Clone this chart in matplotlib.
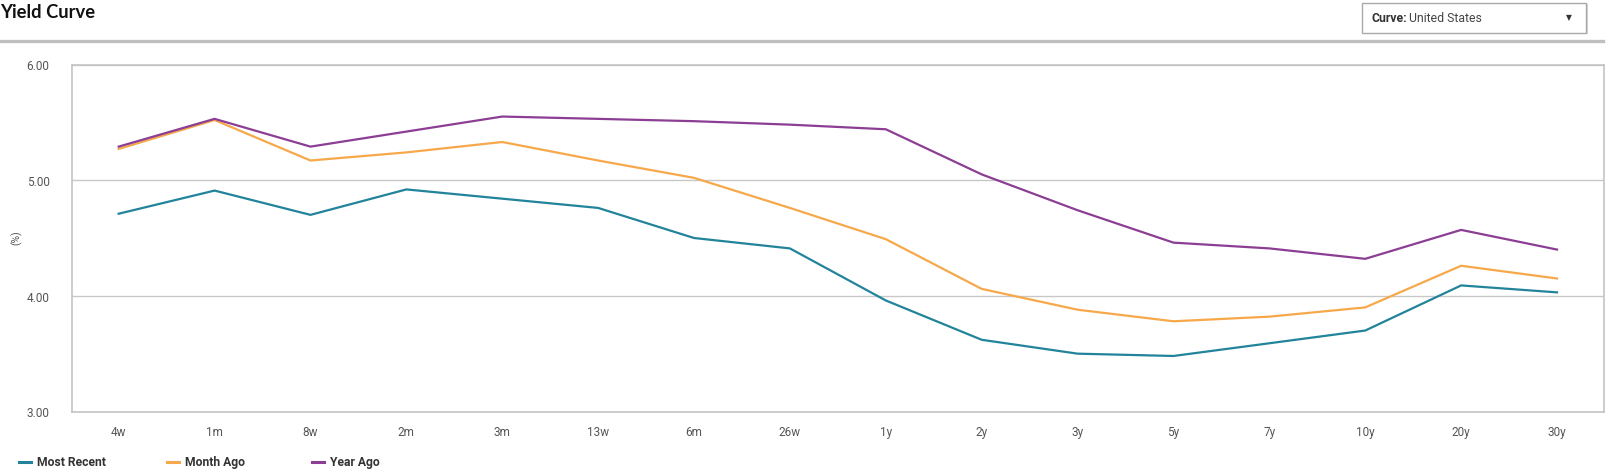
import matplotlib
matplotlib.use('Agg')
import matplotlib.pyplot as plt
from matplotlib.lines import Line2D
from matplotlib.patches import Rectangle

# Data
tenors = ['4w', '1m', '8w', '2m', '3m', '13w', '6m', '26w',
          '1y', '2y', '3y', '5y', '7y', '10y', '20y', '30y']
most_recent = [4.71, 4.91, 4.70, 4.92, 4.84, 4.76, 4.50, 4.41,
               3.96, 3.62, 3.50, 3.48, 3.59, 3.70, 4.09, 4.03]
month_ago = [5.27, 5.52, 5.17, 5.24, 5.33, 5.17, 5.02, 4.76,
             4.49, 4.06, 3.88, 3.78, 3.82, 3.90, 4.26, 4.15]
year_ago = [5.29, 5.53, 5.29, 5.42, 5.55, 5.53, 5.51, 5.48,
            5.44, 5.05, 4.74, 4.46, 4.41, 4.32, 4.57, 4.40]
series_names = ['Most Recent', 'Month Ago', 'Year Ago']
y_ticks = [3.0, 4.0, 5.0, 6.0]

colors = ['#22849b', '#f6a84a', '#8c3e94']

plt.rcParams['font.family'] = 'Roboto'

W, H = 1614, 477
fig = plt.figure(figsize=(W / 100, H / 100), dpi=100)


def fx(px):
    return px / W


def fy(py):
    return 1 - py / H


# plot area
ax = fig.add_axes([fx(71.7), fy(412.5), fx(1604 - 71.7), (412.5 - 65.5) / H])
x = list(range(len(tenors)))
for vals, c in zip([most_recent, month_ago, year_ago], colors):
    ax.plot(x, vals, color=c, lw=1.6, solid_joinstyle='miter', zorder=3)

ax.set_xlim(-0.49, len(tenors) - 0.51)
ax.set_ylim(3.0, 6.0)
ax.set_xticks(x)
ax.set_xticklabels(tenors)
ax.set_yticks(y_ticks)
ax.set_yticklabels([f'{v:.2f}' for v in y_ticks])
ax.tick_params(axis='both', length=0, labelsize=8.5, labelcolor='#555555')
ax.tick_params(axis='x', pad=10)
ax.tick_params(axis='y', pad=16)
ax.grid(axis='y', color='#c8c8c8', lw=1)
for s in ax.spines.values():
    s.set_color('#c4c4c4')
    s.set_linewidth(1.2)
fig.text(fx(17), fy(238), '(%)', fontsize=7.5, color='#555555', rotation=90,
         ha='center', va='center')

# header
fig.text(fx(0), fy(12), 'Yield Curve', fontsize=13.2, fontweight='bold',
         color='#111111', ha='left', va='center', family='Lato')
fig.add_artist(Line2D([0, fx(1603)], [fy(41.5), fy(41.5)], color='#bfbfbf', lw=2.4))

# dropdown box
fig.add_artist(Rectangle((fx(1363.5), fy(35)), fx(224), 30 / H, facecolor='#d6d6d6',
                         edgecolor='none', zorder=1))
fig.add_artist(Rectangle((fx(1362), fy(33.5)), fx(224), 29.5 / H, facecolor='white',
                         edgecolor='#a9a9a9', lw=1, zorder=2))
fig.text(fx(1371.5), fy(18.5), 'Curve:', fontsize=8.8, fontweight='bold',
         color='#333333', ha='left', va='center', zorder=3)
fig.text(fx(1409), fy(18.5), 'United States', fontsize=8.8, color='#444444',
         ha='left', va='center', zorder=3)
fig.text(fx(1569), fy(17.5), '\u25bc', fontsize=5.5, color='#333333',
         ha='center', va='center', zorder=3, family='DejaVu Sans')

# legend
leg_x = [19, 167, 312]
for lx, name, c in zip(leg_x, series_names, colors):
    fig.add_artist(Line2D([fx(lx), fx(lx + 12)], [fy(462.5), fy(462.5)], color=c, lw=2.2))
    fig.text(fx(lx + 18), fy(462.5), name, fontsize=8.7, fontweight='bold',
             color='#333333', ha='left', va='center')

fig.savefig('out.png', dpi=100)
